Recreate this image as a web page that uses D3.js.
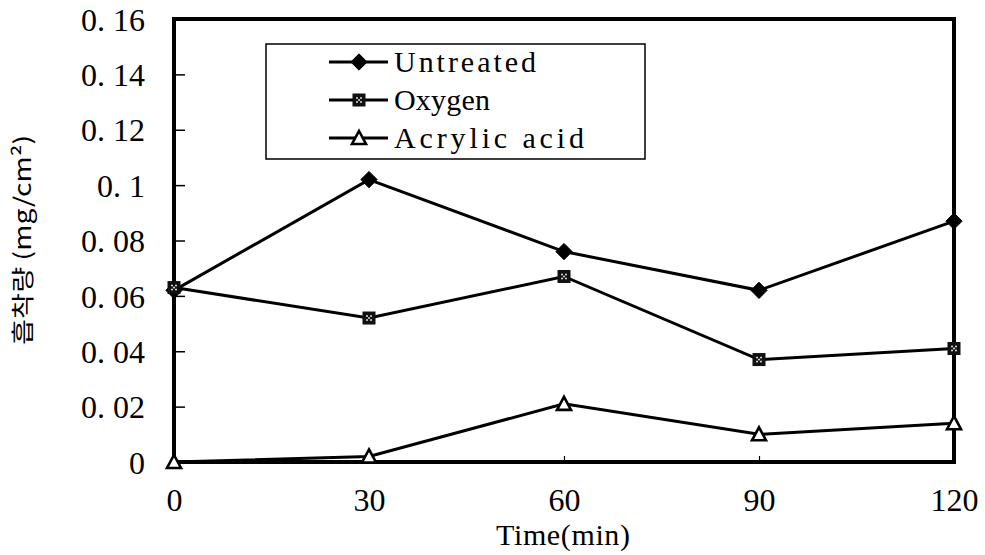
<!DOCTYPE html>
<html>
<head>
<meta charset="utf-8">
<script src="https://cdn.jsdelivr.net/npm/d3@7"></script>
<style>
  body { margin: 0; background: #fff; }
  svg { display: block; }
</style>
</head>
<body>
<div id="chart"></div>
<script>
// data
var times = [0, 30, 60, 90, 120];
var untreated = [0.062, 0.102, 0.076, 0.062, 0.087];
var oxygen = [0.063, 0.052, 0.067, 0.037, 0.041];
var acrylic = [0.000, 0.002, 0.021, 0.010, 0.014];
var yTicks = [0, 0.02, 0.04, 0.06, 0.08, 0.1, 0.12, 0.14, 0.16];
var yTickLabels = ['0', '0. 02', '0. 04', '0. 06', '0. 08', '0. 1', '0. 12', '0. 14', '0. 16'];
var seriesNames = ['Untreated', 'Oxygen', 'Acrylic acid'];

var width = 985, height = 555;
var plotLeft = 174, plotRight = 954, plotTop = 19, plotBottom = 462;

var svg = d3.select('#chart').append('svg')
  .attr('width', width)
  .attr('height', height);

var x = d3.scaleLinear().domain([0, 120]).range([plotLeft, plotRight]);
var y = d3.scaleLinear().domain([0, 0.16]).range([plotBottom, plotTop]);

var serif = '"Liberation Serif", "DejaVu Serif", serif';

// y axis: inward ticks, labels on the left
var yAxis = d3.axisRight(y).tickValues(yTicks).tickSize(11)
  .tickFormat(function(d, i) { return yTickLabels[i]; });
var gy = svg.append('g').attr('transform', 'translate(' + plotLeft + ',0)').call(yAxis);
gy.select('.domain').remove();
gy.selectAll('line').attr('stroke', '#000').attr('stroke-width', 1.5);
gy.selectAll('text')
  .attr('x', -29).attr('dy', '0.35em')
  .attr('text-anchor', 'end')
  .style('font-family', serif).style('font-size', '32px').attr('fill', '#000');

// x axis: short inward ticks
var xAxis = d3.axisTop(x).tickValues(times).tickSize(6).tickFormat(d3.format('d'));
var gx = svg.append('g').attr('transform', 'translate(0,' + plotBottom + ')').call(xAxis);
gx.select('.domain').remove();
gx.selectAll('line').attr('stroke', '#000').attr('stroke-width', 1.2);
gx.selectAll('text')
  .attr('y', 49).attr('dy', 0)
  .style('font-family', serif).style('font-size', '32px').attr('fill', '#000');

// thick frame
svg.append('rect')
  .attr('x', plotLeft).attr('y', plotTop)
  .attr('width', plotRight - plotLeft).attr('height', plotBottom - plotTop)
  .attr('fill', 'none').attr('stroke', '#000').attr('stroke-width', 4);

// axis titles
svg.append('text')
  .attr('x', 563).attr('y', 545)
  .attr('text-anchor', 'middle')
  .attr('textLength', 134).attr('lengthAdjust', 'spacing')
  .style('font-family', serif).style('font-size', '30px')
  .text('Time(min)');

svg.append('text')
  .attr('transform', 'translate(31,240) rotate(-90)')
  .attr('text-anchor', 'middle')
  .attr('textLength', 210).attr('lengthAdjust', 'spacingAndGlyphs')
  .style('font-family', '"Noto Sans CJK KR", sans-serif').style('font-size', '23px')
  .text('흡착량 (mg/cm²)');

// markers
function drawMarker(g, kind) {
  if (kind === 0) {
    g.append('path').attr('d', d3.symbol(d3.symbolDiamond2, 170)())
      .attr('fill', '#000').attr('stroke', '#000').attr('stroke-width', 1);
  } else if (kind === 1) {
    g.append('rect').attr('x', -6.5).attr('y', -6.5).attr('width', 13).attr('height', 13)
      .attr('fill', '#111');
    [[-2, -2], [2, 2], [2, -2], [-2, 2], [0, 0]].forEach(function(p) {
      g.append('rect').attr('x', p[0] - 0.8).attr('y', p[1] - 0.8)
        .attr('width', 1.6).attr('height', 1.6).attr('fill', '#fff');
    });
  } else {
    g.append('path').attr('d', 'M0,-7L7,6L-7,6Z')
      .attr('fill', '#fff').attr('stroke', '#000').attr('stroke-width', 2.6);
  }
}

var series = [untreated, oxygen, acrylic];
var line = d3.line()
  .x(function(d, i) { return x(times[i]); })
  .y(function(d) { return y(d); });

series.forEach(function(vals) {
  svg.append('path')
    .datum(vals)
    .attr('d', line)
    .attr('fill', 'none')
    .attr('stroke', '#000')
    .attr('stroke-width', 3);
});
series.forEach(function(vals, k) {
  vals.forEach(function(v, i) {
    var g = svg.append('g').attr('transform', 'translate(' + x(times[i]) + ',' + y(v) + ')');
    drawMarker(g, k);
  });
});

// legend
var legend = svg.append('g');
legend.append('rect')
  .attr('x', 266).attr('y', 44).attr('width', 379).attr('height', 115)
  .attr('fill', '#fff').attr('stroke', '#000').attr('stroke-width', 1.5);

var legendY = d3.scalePoint().domain(seriesNames).range([62, 138]);
var legendLen = [142, 96, 190];
seriesNames.forEach(function(name, k) {
  var ly = legendY(name);
  legend.append('line')
    .attr('x1', 329).attr('x2', 388).attr('y1', ly).attr('y2', ly)
    .attr('stroke', '#000').attr('stroke-width', 3);
  drawMarker(legend.append('g').attr('transform', 'translate(359,' + ly + ')'), k);
  legend.append('text')
    .attr('x', 394).attr('y', ly + 10)
    .attr('textLength', legendLen[k]).attr('lengthAdjust', 'spacing')
    .style('font-family', serif).style('font-size', '30px')
    .text(name);
});
</script>
</body>
</html>
